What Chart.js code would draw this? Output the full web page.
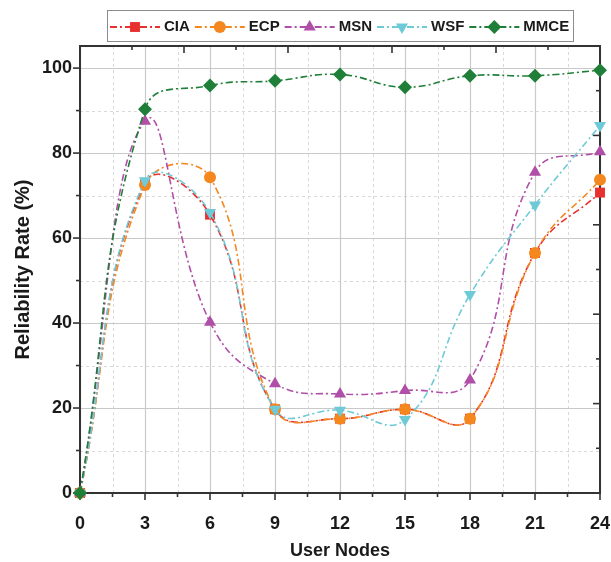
<!DOCTYPE html>
<html>
<head>
<meta charset="utf-8">
<script src="https://cdn.jsdelivr.net/npm/chart.js@4/dist/chart.umd.min.js"></script>
<style>
  html, body { margin: 0; padding: 0; background: #ffffff; }
  #wrap { width: 611px; height: 562px; position: relative; }
</style>
</head>
<body>
<div id="wrap"><canvas id="c" width="611" height="562"></canvas></div>
<script>
// ---- data ----
const categories = [0, 3, 6, 9, 12, 15, 18, 21, 24];
const ciaValues  = [0, 73.0, 65.5, 19.7, 17.5, 19.7, 17.5, 56.5, 70.7];
const ecpValues  = [0, 72.5, 74.3, 19.7, 17.5, 19.7, 17.5, 56.5, 73.7];
const msnValues  = [0, 87.5, 40.2, 25.7, 23.3, 24.1, 26.6, 75.5, 80.3];
const wsfValues  = [0, 73.5, 66.0, 19.7, 19.5, 17.3, 46.7, 67.8, 86.5];
const mmceValues = [0, 90.3, 95.9, 97.0, 98.5, 95.5, 98.2, 98.2, 99.5];
const seriesNames = ['CIA', 'ECP', 'MSN', 'WSF', 'MMCE'];
const xTickValues = [0, 3, 6, 9, 12, 15, 18, 21, 24];
const yTickValues = [0, 20, 40, 60, 80, 100];
const xMinorValues = [1.5, 4.5, 7.5, 10.5, 13.5, 16.5, 19.5, 22.5];
const yMinorValues = [10, 30, 50, 70, 90];
const xTitle = 'User Nodes';
const yTitle = 'Reliability Rate (%)';

const seriesValues = [ciaValues, ecpValues, msnValues, wsfValues, mmceValues];
const colors = ['#e8302f', '#f5871f', '#b04fa7', '#6fcad7', '#1f7f38'];
const styles = [
  {pointStyle: 'rect', radius: 7, rotation: 0},
  {pointStyle: 'circle', radius: 6, rotation: 0},
  {pointStyle: 'triangle', radius: 7, rotation: 0},
  {pointStyle: 'triangle', radius: 7, rotation: 180},
  {pointStyle: 'rectRot', radius: 7, rotation: 0}
];
const DASH = [7, 3, 2, 3];
const FONT = '"Liberation Sans", Arial, sans-serif';

const datasets = seriesNames.map((name, i) => ({
  label: name,
  data: categories.map((x, j) => ({x: x, y: seriesValues[i][j]})),
  borderColor: colors[i],
  backgroundColor: colors[i],
  borderWidth: 1.6,
  borderDash: DASH,
  pointStyle: styles[i].pointStyle,
  pointRadius: styles[i].radius,
  pointHoverRadius: styles[i].radius,
  pointRotation: styles[i].rotation,
  pointBorderWidth: 0,
  pointBackgroundColor: colors[i],
  tension: 0.45,
  clip: false,
  order: seriesNames.length - i
}));

function drawMarker(ctx, style, r, rot, x, y, color) {
  ctx.save();
  ctx.fillStyle = color;
  ctx.translate(x, y);
  ctx.rotate(rot * Math.PI / 180);
  ctx.beginPath();
  if (style === 'rect') {
    const s = r * Math.SQRT1_2;
    ctx.rect(-s, -s, 2 * s, 2 * s);
  } else if (style === 'circle') {
    ctx.arc(0, 0, r, 0, Math.PI * 2);
  } else if (style === 'triangle') {
    ctx.moveTo(0, -r);
    ctx.lineTo(r * Math.cos(Math.PI / 6), r * 0.5);
    ctx.lineTo(-r * Math.cos(Math.PI / 6), r * 0.5);
    ctx.closePath();
  } else if (style === 'rectRot') {
    ctx.moveTo(0, -r); ctx.lineTo(r, 0); ctx.lineTo(0, r); ctx.lineTo(-r, 0);
    ctx.closePath();
  }
  ctx.fill();
  ctx.restore();
}

const framePlugin = {
  id: 'frame',
  beforeDatasetsDraw(chart) {
    const {ctx, chartArea: a, scales} = chart;
    const xs = scales.x, ys = scales.y;
    ctx.save();
    // minor grid (dashed)
    ctx.strokeStyle = '#d9d9d9';
    ctx.lineWidth = 1;
    ctx.setLineDash([3, 3]);
    xMinorValues.forEach(v => {
      const px = Math.round(xs.getPixelForValue(v)) + 0.5;
      ctx.beginPath(); ctx.moveTo(px, a.top); ctx.lineTo(px, a.bottom); ctx.stroke();
    });
    yMinorValues.forEach(v => {
      const py = Math.round(ys.getPixelForValue(v)) + 0.5;
      ctx.beginPath(); ctx.moveTo(a.left, py); ctx.lineTo(a.right, py); ctx.stroke();
    });
    // major grid (solid)
    ctx.setLineDash([]);
    ctx.strokeStyle = '#c9c9c9';
    ctx.lineWidth = 1.2;
    xTickValues.forEach(v => {
      const px = Math.round(xs.getPixelForValue(v)) + 0.5;
      ctx.beginPath(); ctx.moveTo(px, a.top); ctx.lineTo(px, a.bottom); ctx.stroke();
    });
    yTickValues.forEach(v => {
      const py = Math.round(ys.getPixelForValue(v)) + 0.5;
      ctx.beginPath(); ctx.moveTo(a.left, py); ctx.lineTo(a.right, py); ctx.stroke();
    });
    // frame
    ctx.strokeStyle = '#333333';
    ctx.lineWidth = 2;
    ctx.strokeRect(a.left, a.top, a.right - a.left, a.bottom - a.top);
    // ticks: left & bottom outward
    ctx.lineWidth = 1.6;
    yTickValues.forEach(v => {
      const py = ys.getPixelForValue(v);
      ctx.beginPath(); ctx.moveTo(a.left - 7, py); ctx.lineTo(a.left, py); ctx.stroke();
    });
    yMinorValues.forEach(v => {
      const py = ys.getPixelForValue(v);
      ctx.beginPath(); ctx.moveTo(a.left - 4, py); ctx.lineTo(a.left, py); ctx.stroke();
    });
    xTickValues.forEach(v => {
      const px = xs.getPixelForValue(v);
      ctx.beginPath(); ctx.moveTo(px, a.bottom); ctx.lineTo(px, a.bottom + 7); ctx.stroke();
    });
    xMinorValues.forEach(v => {
      const px = xs.getPixelForValue(v);
      ctx.beginPath(); ctx.moveTo(px, a.bottom); ctx.lineTo(px, a.bottom + 4); ctx.stroke();
    });
    // top & right inward ticks (separate 10-part division as in the reference)
    const w = a.right - a.left, h = a.bottom - a.top;
    for (let k = 1; k < 10; k++) {
      const len = (k % 2 === 0) ? 7 : 4;
      const px = a.left + w * k / 10;
      ctx.beginPath(); ctx.moveTo(px, a.top); ctx.lineTo(px, a.top + len); ctx.stroke();
      const py = a.bottom - h * k / 10;
      ctx.beginPath(); ctx.moveTo(a.right, py); ctx.lineTo(a.right - len, py); ctx.stroke();
    }
    ctx.restore();
  },
  afterDraw(chart) {
    const ctx = chart.ctx;
    ctx.save();
    // legend box
    const boxL = 107.5, boxT = 10.5, boxW = 466, boxH = 31;
    ctx.fillStyle = '#ffffff';
    ctx.fillRect(boxL, boxT, boxW, boxH);
    ctx.strokeStyle = '#8c8c8c';
    ctx.lineWidth = 1;
    ctx.strokeRect(boxL, boxT, boxW, boxH);
    ctx.font = 'bold 15px ' + FONT;
    ctx.textBaseline = 'middle';
    ctx.textAlign = 'left';
    const cy = boxT + boxH / 2 + 1;
    let x = 110;
    seriesNames.forEach((name, i) => {
      ctx.strokeStyle = colors[i];
      ctx.lineWidth = 1.8;
      ctx.setLineDash(DASH);
      ctx.beginPath(); ctx.moveTo(x, cy); ctx.lineTo(x + 50, cy); ctx.stroke();
      ctx.setLineDash([]);
      drawMarker(ctx, styles[i].pointStyle, styles[i].radius, styles[i].rotation, x + 25, cy, colors[i]);
      ctx.fillStyle = '#1a1a1a';
      ctx.fillText(name, x + 54, cy);
      x += 54 + ctx.measureText(name).width + 5;
    });
    ctx.restore();
  }
};

new Chart(document.getElementById('c'), {
  type: 'line',
  data: {datasets: datasets},
  options: {
    responsive: false,
    animation: false,
    devicePixelRatio: 1,
    layout: {padding: {left: 0, right: 11, top: 46, bottom: 0}},
    plugins: {legend: {display: false}, tooltip: {enabled: false}},
    scales: {
      x: {
        type: 'linear',
        min: 0, max: 24,
        grid: {display: false},
        border: {display: false},
        afterBuildTicks: s => { s.ticks = xTickValues.map(v => ({value: v})); },
        afterFit: s => { s.height = 69; s.paddingLeft = 0; s.paddingRight = 0; },
        ticks: {
          padding: 12,
          color: '#1a1a1a',
          font: {family: FONT, size: 18, weight: 'bold'},
          maxRotation: 0,
          autoSkip: false
        },
        title: {
          display: true, text: xTitle, color: '#1a1a1a',
          font: {family: FONT, size: 18, weight: 'bold'},
          padding: {top: 0, bottom: 0}
        }
      },
      y: {
        type: 'linear',
        min: 0, max: 105.2,
        grid: {display: false},
        border: {display: false},
        afterBuildTicks: s => { s.ticks = yTickValues.map(v => ({value: v})); },
        afterFit: s => { s.width = 80; s.paddingTop = 0; s.paddingBottom = 0; },
        ticks: {
          padding: 0,
          color: '#1a1a1a',
          font: {family: FONT, size: 18, weight: 'bold'}
        },
        title: {
          display: true, text: yTitle, color: '#1a1a1a',
          font: {family: FONT, size: 20, weight: 'bold'},
          padding: {top: 11, bottom: 0}
        }
      }
    }
  },
  plugins: [framePlugin]
});
</script>
</body>
</html>
